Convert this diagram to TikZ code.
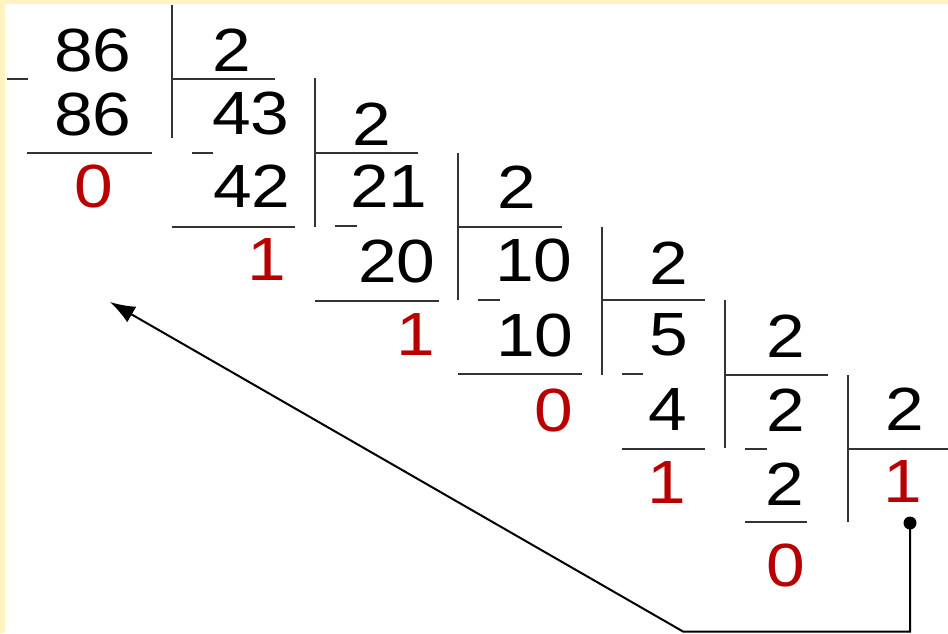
\documentclass[tikz,border=0pt]{standalone}
\usepackage{fontspec}
\setmainfont{Liberation Sans}
\usetikzlibrary{arrows.meta}
\definecolor{bgyellow}{RGB}{255,244,192}
\definecolor{remred}{RGB}{185,0,0}
\begin{document}
\begin{tikzpicture}[x=1pt,y=-1pt,
  num/.style={font=\fontsize{61}{61}\selectfont, inner sep=0pt, xscale=1.14, text=black},
  rem/.style={num, text=remred},
  rule/.style={line width=2.6pt, black!80},
  back/.style={line width=2pt, black}]
\useasboundingbox (0,0) rectangle (948,633);
\fill[bgyellow] (0,0) rectangle (948,633);
\fill[white] (5,4) rectangle (948,633);

% step 1: 86 / 2
\node[num] (a1) at (93,50) {86};
\node[num] (b1) at (93,114) {86};
\node[rem] (r1) at (94,186) {0};
\node[num] (d1) at (232,50) {2};
\draw[rule] (172,5) -- (172,138);
\draw[rule] (172,79) -- (275,79);
\draw[rule] (7,79) -- (28,79);
\draw[rule] (27,153) -- (152,153);

% step 2: 43 / 2
\node[num] (a2) at (251,113) {43};
\node[num] (b2) at (252,186) {42};
\node[rem] (r2) at (267,260) {1};
\node[num] (d2) at (372,124) {2};
\draw[rule] (315,78) -- (315,227);
\draw[rule] (315,153) -- (418,153);
\draw[rule] (192,153) -- (213,153);
\draw[rule] (172,227) -- (295,227);

% step 3: 21 / 2
\node[num] (a3) at (389,186) {21};
\node[num] (b3) at (397,261) {20};
\node[rem] (r3) at (416,335) {1};
\node[num] (d3) at (517,187) {2};
\draw[rule] (458,153) -- (458,300);
\draw[rule] (458,227) -- (562,227);
\draw[rule] (335,226) -- (357,226);
\draw[rule] (315,301) -- (439,301);

% step 4: 10 / 2
\node[num] (a4) at (534,260) {10};
\node[num] (b4) at (535,335) {10};
\node[rem] (r4) at (554,410) {0};
\node[num] (d4) at (669,263) {2};
\draw[rule] (602,227) -- (602,375);
\draw[rule] (602,300) -- (705,300);
\draw[rule] (478,300) -- (500,300);
\draw[rule] (458,374) -- (582,374);

% step 5: 5 / 2
\node[num] (a5) at (669,335) {5};
\node[num] (b5) at (668,410) {4};
\node[rem] (r5) at (667,483) {1};
\node[num] (d5) at (786,336) {2};
\draw[rule] (725,300) -- (725,448);
\draw[rule] (725,375) -- (828,375);
\draw[rule] (622,374) -- (643,374);
\draw[rule] (622,449) -- (705,449);

% step 6: 2 / 2
\node[num] (a6) at (786,410) {2};
\node[num] (b6) at (785,484) {2};
\node[rem] (r6) at (786,565) {0};
\node[num] (d6) at (905,409) {2};
\draw[rule] (848,375) -- (848,522);
\draw[rule] (848,449) -- (948,449);
\draw[rule] (745,449) -- (767,449);
\draw[rule] (745,522) -- (807,522);

% last quotient
\node[rem] (q) at (903,482) {1};

% read-back arrow
\node[circle, fill=black, inner sep=0pt, minimum size=13pt] (dot) at (910,523) {};
\coordinate (c1) at (910,631.5);
\coordinate (c2) at (683,631.5);
\coordinate (tip) at (110,302);
\draw[back, -{Latex[length=25pt,width=18pt]}] (dot.center) -- (c1) -- (c2) -- (tip);
\end{tikzpicture}
\end{document}
